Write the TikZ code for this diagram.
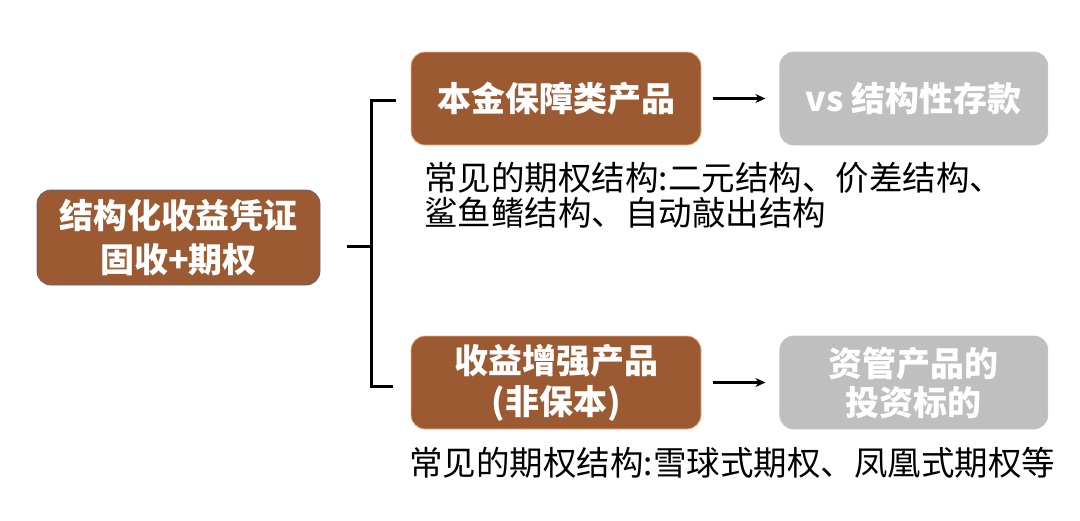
\documentclass[tikz,border=0pt]{standalone}
\usepackage{fontspec}
\setmainfont{Noto Sans CJK SC}
\usepackage{tikz}
\usetikzlibrary{arrows.meta,positioning}
\definecolor{brown}{RGB}{156, 90, 50}
\definecolor{grey}{RGB}{191, 191, 191}
\definecolor{rimblue}{RGB}{88, 104, 124}
\definecolor{rimorange}{RGB}{240, 176, 128}
\tikzstyle{prod} = [rectangle, rounded corners=14pt, fill=brown, draw=rimorange, line width=0.8pt, text=white, align=center, font=\fontsize{34}{41}\selectfont\bfseries, minimum width=290pt, minimum height=93pt, inner sep=0pt]
\tikzstyle{root} = [prod, draw=rimblue, minimum width=283pt, minimum height=95pt, font=\fontsize{34}{44}\selectfont\bfseries]
\tikzstyle{compare} = [prod, fill=grey, draw=grey!90, minimum width=268pt, font=\fontsize{34}{39}\selectfont\bfseries]
\tikzstyle{note} = [align=left, inner sep=0pt, font=\fontsize{33.5}{35}\selectfont]
\tikzstyle{tedge} = [draw, line width=2.6pt, -{Stealth[length=10pt,width=9pt]}]
\tikzstyle{brace} = [draw, line width=3pt]

\begin{document}
\begin{tikzpicture}[x=1pt, y=-1pt]
\useasboundingbox (0,0) rectangle (1080,520);

% root =============================
\node[root] (sp) at (178.5,237.5) {结构化收益凭证\\固收+期权};

% upper branch =============================
\node[prod] (guar) at (556,98.5) {本金保障类产品};
\node[compare, right=78pt of guar] (dep) {vs 结构性存款};
\node[note, anchor=north west] (guar-note) at (424,162) {常见的期权结构:二元结构、价差结构、\\鲨鱼鳍结构、自动敲出结构};

% lower branch =============================
\node[prod] (enh) at (556,382.5) {收益增强产品\\(非保本)};
\node[compare, right=78pt of enh] (am) {资管产品的\\投资标的};
\node[note, anchor=north west] (enh-note) at (409,447) {常见的期权结构:雪球式期权、凤凰式期权等};

% bracket
\coordinate (fork) at (371,246);
\coordinate (stem) at (347,246);
\path[brace] (stem) -- (fork);
\path[brace] (396,100) -- (371,100) -- (371,386) -- (393,386);

% edges
\path[tedge] ([xshift=12pt]guar.east) -- ([xshift=-14pt]dep.west);
\path[tedge] ([xshift=12pt]enh.east) -- ([xshift=-14pt]am.west);

\end{tikzpicture}
\end{document}
